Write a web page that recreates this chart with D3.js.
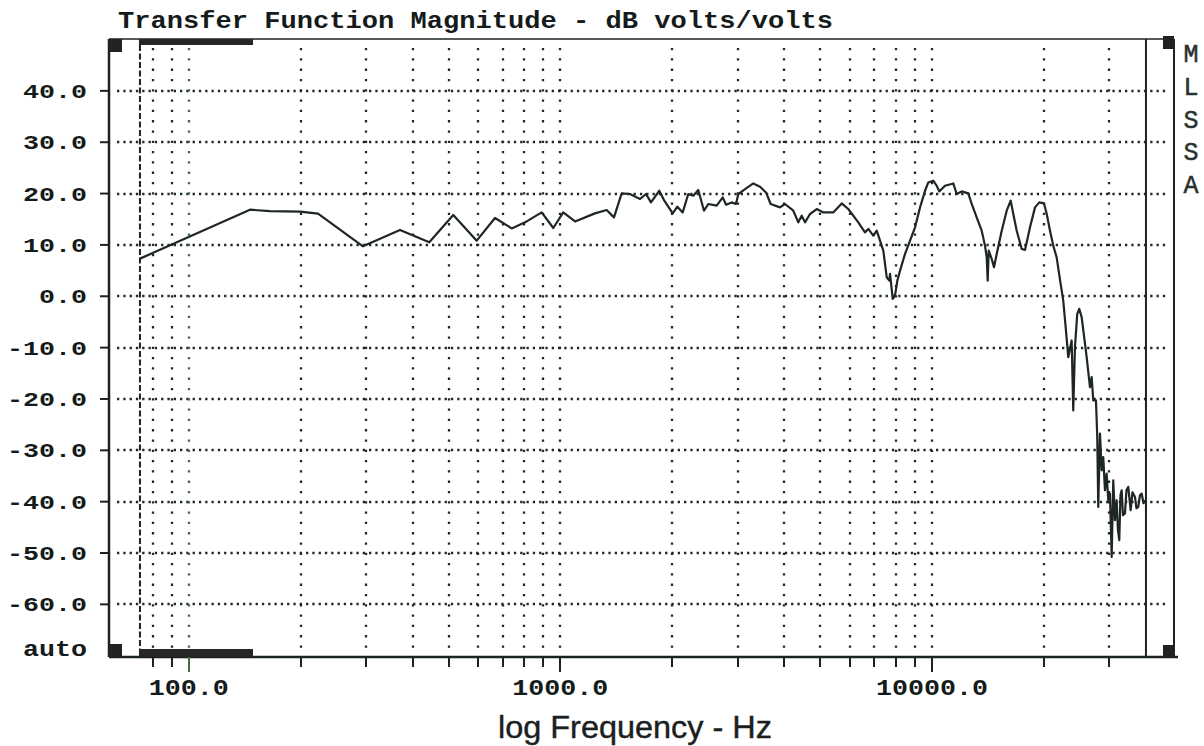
<!DOCTYPE html>
<html><head><meta charset="utf-8">
<script src="https://cdn.jsdelivr.net/npm/d3@7"></script>
<style>
html,body{margin:0;padding:0;background:#fff;}
svg{display:block;}
</style></head>
<body>
<svg id="chart" width="1204" height="746"></svg>
<script>
// ---- data ----
const freqHz = [73.9,146.1,165.4,199.2,222.7,294.3,370.2,443.8,515,595.5,666.8,739.6,811.6,890.6,957,
1018,1095,1239,1332,1394,1462,1539,1638,1700,1753,1846,1900,2006,2064,2134,2209,2279,2350,2435,2501,
2634,2735,2791,2891,2969,3012,3140,3305,3445,3575,3681,3900,4022,4235,4368,4461,4553,4697,4896,5100,
5425,5715,5953,6334,6602,6739,6951,7101,7247,7397,7555,7677,7711,7841,7953,8068,8204,8462,8729,9004,
9287,9580,9773,10081,10295,10463,10839,11411,11654,12021,12522,12790,13192,13608,13889,14036,14123,
14211,14478,14686,14934,15404,15889,16287,16552,16904,17437,17797,18357,18935,19447,20021,20359,20779,
21200,21651,22194,22555,22936,23266,23761,23997,24251,24599,24906,25280,26077,26616,26898,27165,27624,
27847,28020,28317,28616,28901,29207,29517,29811,30127,30446,30749,31075,31404,31658,31914,32152,32392,
32654,33061,33369,33744,34249,34633,35174,35502,35900,36281,36665,37077,37422];
const magDb = [7.33,16.86,16.57,16.47,16.08,9.72,12.91,10.50,15.83,10.83,15.24,13.22,14.58,16.33,13.30,
16.33,14.58,16.14,16.80,15.36,20.03,19.91,18.94,19.91,18.28,20.55,18.74,16.14,17.44,16.33,19.91,19.58,20.69,16.66,17.97,
17.64,19.25,17.83,18.28,17.97,19.91,20.88,21.97,21.33,20.22,17.97,17.31,17.97,16.66,14.39,15.69,14.39,16.02,16.99,16.33,
16.33,18.08,16.99,14.39,12.44,13.11,11.80,12.77,10.83,8.89,3.69,3.05,4.36,-0.51,0.14,3.05,5.00,8.24,10.83,13.42,
17.31,20.55,22.17,22.50,21.52,20.42,21.52,21.97,19.91,20.42,20.03,17.97,15.36,12.77,9.86,7.58,3.05,
8.89,7.27,5.64,8.24,12.77,16.66,18.61,16.02,12.77,9.22,9.02,13.42,17.31,18.28,18.08,16.02,12.77,
9.86,7.58,2.41,-0.84,-6.67,-11.86,-8.61,-22.22,-9.92,-3.42,-2.45,-4.08,-11.86,-17.69,-15.75,-20.28,-20.28,
-27.42,-41.03,-26.75,-33.89,-31.30,-37.78,-34.53,-39.72,-38.42,-50.75,-35.84,-43.61,-39.72,-45.56,-47.50,-38.75,-37.78,
-42.64,-42.31,-37.78,-37.14,-41.67,-38.17,-39.08,-41.28,-41.03,-38.75,-38.42,-40.31,-39.72];

const yTicks = [40,30,20,10,0,-10,-20,-30,-40,-50,-60];
const yTickLabels = ["40.0","30.0","20.0","10.0","0.0","-10.0","-20.0","-30.0","-40.0","-50.0","-60.0"];
const xGrid = [80,90,100,200,300,400,500,600,700,800,900,1000,2000,3000,4000,5000,6000,7000,8000,9000,10000,20000,30000];
const xMajor = [100,1000,10000];
const xMajorLabels = ["100.0","1000.0","10000.0"];
const title = "Transfer Function Magnitude - dB volts/volts";
const xTitle = "log Frequency - Hz";
const sideLetters = ["M","L","S","S","A"];
const bottomLabel = "auto";

// ---- layout ----
const L = 109, R = 1174, T = 39, B = 657;
const ink = "#1b2222";
const svg = d3.select("#chart");

const x = d3.scaleLog().domain([61, 44800]).range([L, R]);
const y = d3.scaleLinear().domain([-70.25, 50.1]).range([B, T]);

// horizontal dotted grid
svg.append("g").selectAll("line").data(yTicks).join("line")
  .attr("x1", 117).attr("x2", 1168)
  .attr("y1", d => Math.round(y(d))).attr("y2", d => Math.round(y(d)))
  .attr("stroke", "#222828").attr("stroke-width", 2.3).attr("stroke-dasharray", "2.3,4");

// vertical dotted grid
svg.append("g").selectAll("line").data(xGrid).join("line")
  .attr("x1", d => Math.round(x(d))).attr("x2", d => Math.round(x(d)))
  .attr("y1", 48).attr("y2", 650)
  .attr("stroke", d => d === 100 ? "#3f6e45" : "#222828")
  .attr("stroke-width", 2.3).attr("stroke-dasharray", "2.3,8");

// frame
svg.append("line").attr("x1", L).attr("x2", R).attr("y1", T).attr("y2", T).attr("stroke", ink).attr("stroke-width", 1.6);
svg.append("line").attr("x1", L).attr("x2", L).attr("y1", T).attr("y2", B).attr("stroke", ink).attr("stroke-width", 2.5);
svg.append("line").attr("x1", R).attr("x2", R).attr("y1", T).attr("y2", B).attr("stroke", ink).attr("stroke-width", 2);
svg.append("line").attr("x1", L).attr("x2", R + 4).attr("y1", B).attr("y2", B).attr("stroke", ink).attr("stroke-width", 2.5);

// corner squares
[[L, T], [L, B - 13], [R - 11, T - 3], [R - 11, B - 12]].forEach(p => {
  svg.append("rect").attr("x", p[0]).attr("y", p[1]).attr("width", p[0] === L ? 13 : 11).attr("height", 13).attr("fill", "#222");
});

// start / end markers of the data
const fStart = freqHz[0], fEnd = freqHz[freqHz.length - 1];
svg.append("rect").attr("x", x(fStart) - 1).attr("y", T).attr("width", 254 - x(fStart)).attr("height", 6).attr("fill", "#262626");
svg.append("rect").attr("x", x(fStart) - 1).attr("y", B - 8).attr("width", 254 - x(fStart)).attr("height", 8).attr("fill", "#262626");
svg.append("line").attr("x1", x(fStart)).attr("x2", x(fStart)).attr("y1", T + 6).attr("y2", B - 8)
  .attr("stroke", ink).attr("stroke-width", 2).attr("stroke-dasharray", "6,2.5");
svg.append("line").attr("x1", x(fEnd) + 1).attr("x2", x(fEnd) + 1).attr("y1", T).attr("y2", B)
  .attr("stroke", ink).attr("stroke-width", 2);

// y ticks & labels
svg.append("g").selectAll("line").data(yTicks).join("line")
  .attr("x1", 100).attr("x2", L).attr("y1", d => y(d)).attr("y2", d => y(d))
  .attr("stroke", ink).attr("stroke-width", 2);
svg.append("g").selectAll("text").data(yTicks).join("text")
  .attr("x", 87).attr("y", d => y(d) + 7)
  .attr("text-anchor", "end")
  .attr("font-family", "'Liberation Mono', 'DejaVu Sans Mono', monospace")
  .attr("font-weight", "bold").attr("font-size", 21)
  .attr("textLength", (d, i) => 16 * yTickLabels[i].length).attr("lengthAdjust", "spacingAndGlyphs")
  .attr("fill", "#151a1a")
  .text((d, i) => yTickLabels[i]);
svg.append("text").attr("x", 87).attr("y", 656).attr("text-anchor", "end")
  .attr("font-family", "'Liberation Mono', monospace").attr("font-weight", "bold").attr("font-size", 22)
  .attr("textLength", 64).attr("lengthAdjust", "spacingAndGlyphs").attr("fill", "#151a1a").text(bottomLabel);

// x ticks
svg.append("g").selectAll("line").data(xGrid).join("line")
  .attr("x1", d => Math.round(x(d))).attr("x2", d => Math.round(x(d)))
  .attr("y1", B).attr("y2", d => xMajor.includes(d) ? B + 15 : B + 10)
  .attr("stroke", d => d === 100 ? "#3f6e45" : ink).attr("stroke-width", 2);
svg.append("g").selectAll("text").data(xMajor).join("text")
  .attr("x", d => x(d)).attr("y", 695).attr("text-anchor", "middle")
  .attr("font-family", "'Liberation Mono', monospace").attr("font-weight", "bold").attr("font-size", 22)
  .attr("textLength", (d, i) => 16 * xMajorLabels[i].length).attr("lengthAdjust", "spacingAndGlyphs")
  .attr("fill", "#151a1a").text((d, i) => xMajorLabels[i]);

// titles
svg.append("text").attr("x", 118).attr("y", 28)
  .attr("font-family", "'Liberation Mono', monospace").attr("font-weight", "bold").attr("font-size", 24)
  .attr("textLength", 715).attr("lengthAdjust", "spacingAndGlyphs").attr("fill", "#151a1a").text(title);
svg.append("text").attr("x", 498).attr("y", 738)
  .attr("font-family", "'Liberation Sans Narrow', 'Liberation Sans', sans-serif").attr("font-size", 31)
  .attr("textLength", 274).attr("lengthAdjust", "spacingAndGlyphs").attr("fill", "#1a2020")
  .attr("stroke", "#1a2020").attr("stroke-width", 0.4).text(xTitle);

// side letters
svg.append("g").selectAll("text").data(sideLetters).join("text")
  .attr("x", 1191).attr("y", (d, i) => 62 + i * 32.8).attr("text-anchor", "middle")
  .attr("font-family", "'Liberation Mono', monospace").attr("font-size", 25)
  .attr("stroke", "#2a3030").attr("stroke-width", 0.5)
  .attr("fill", "#2a3030").text(d => d);

// curve
const pts = freqHz.map((f, i) => [f, magDb[i]]);
svg.append("path").datum(pts)
  .attr("d", d3.line().x(d => x(d[0])).y(d => y(d[1])))
  .attr("fill", "none").attr("stroke", "#1e2626").attr("stroke-width", 2.2).attr("stroke-linejoin", "round");
</script>
</body></html>
